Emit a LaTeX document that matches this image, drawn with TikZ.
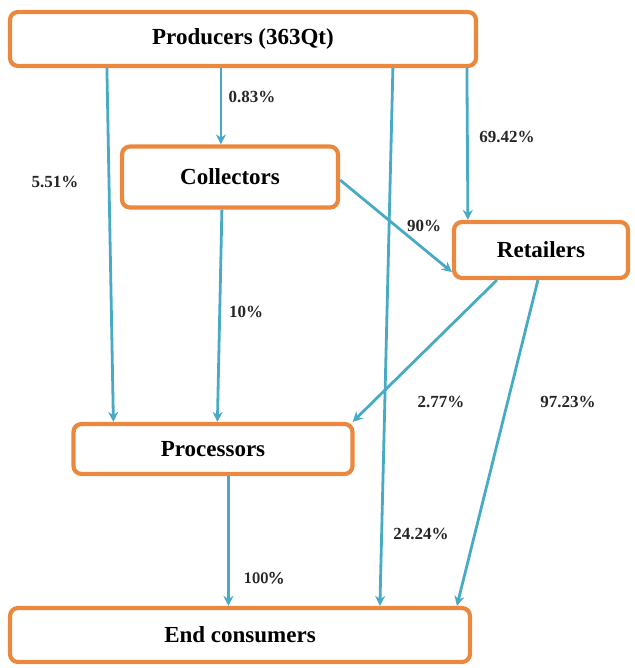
\documentclass[tikz,border=0pt]{standalone}
\usepackage{fontspec}
\setmainfont{Liberation Serif}
\usetikzlibrary{arrows.meta}
\definecolor{boxorange}{RGB}{236,136,62}
\definecolor{flowblue}{RGB}{72,170,196}
\tikzset{
  actor/.style={draw=boxorange, line width=4.2pt, rounded corners=8pt, fill=white,
    font=\bfseries\fontsize{23}{26}\selectfont, inner sep=0pt},
  flow/.style={draw=flowblue, line width=2.8pt, -{Stealth[length=10pt,width=10pt]}},
  pct/.style={font=\bfseries\fontsize{17}{19}\selectfont, text=black!85, inner sep=1pt}
}
\begin{document}
\begin{tikzpicture}[x=1pt,y=-1pt]
\useasboundingbox (0,0) rectangle (634,668);
\node[actor, minimum width=466pt, minimum height=54pt] (prod) at (243,39) {Producers (363Qt)};
\node[actor, minimum width=216pt, minimum height=61pt] (col) at (230,177) {Collectors};
\node[actor, minimum width=174pt, minimum height=56pt] (ret) at (541,250) {Retailers};
\node[actor, minimum width=279pt, minimum height=50pt] (proc) at (213,449) {Processors};
\node[actor, minimum width=460pt, minimum height=54pt] (cons) at (240,635) {End consumers};

\draw[flow] ([xshift=99pt]prod.south west) -- ([xshift=42pt]proc.north west);
\draw[flow] ([xshift=213pt]prod.south west) -- ([xshift=101pt]col.north west);
\draw[flow] ([xshift=385pt]prod.south west) -- ([xshift=372pt]cons.north west);
\draw[flow] ([xshift=459pt]prod.south west) -- ([xshift=16pt]ret.north west);
\draw[flow] ([yshift=-3pt]col.east) -- ([yshift=8pt]ret.south west);
\draw[flow] ([xshift=102pt]col.south west) -- ([xshift=146pt]proc.north west);
\draw[flow] ([xshift=45pt]ret.south west) -- ([xshift=-2pt]proc.north east);
\draw[flow] ([xshift=86pt]ret.south west) -- ([xshift=449pt]cons.north west);
\draw[flow] ([xshift=157pt]proc.south west) -- ([xshift=157pt]proc.south west |- cons.north);

\node[pct] (l1) at (252,97) {0.83\%};
\node[pct] (l2) at (55,182) {5.51\%};
\node[pct] (l3) at (507,137) {69.42\%};
\node[pct] (l4) at (424,226) {90\%};
\node[pct] (l5) at (246,312) {10\%};
\node[pct] (l6) at (441,402) {2.77\%};
\node[pct] (l7) at (568,402) {97.23\%};
\node[pct] (l8) at (421,534) {24.24\%};
\node[pct, font=\sffamily\bfseries\fontsize{15}{17}\selectfont] (l9) at (264,578) {100\%};
\end{tikzpicture}
\end{document}
